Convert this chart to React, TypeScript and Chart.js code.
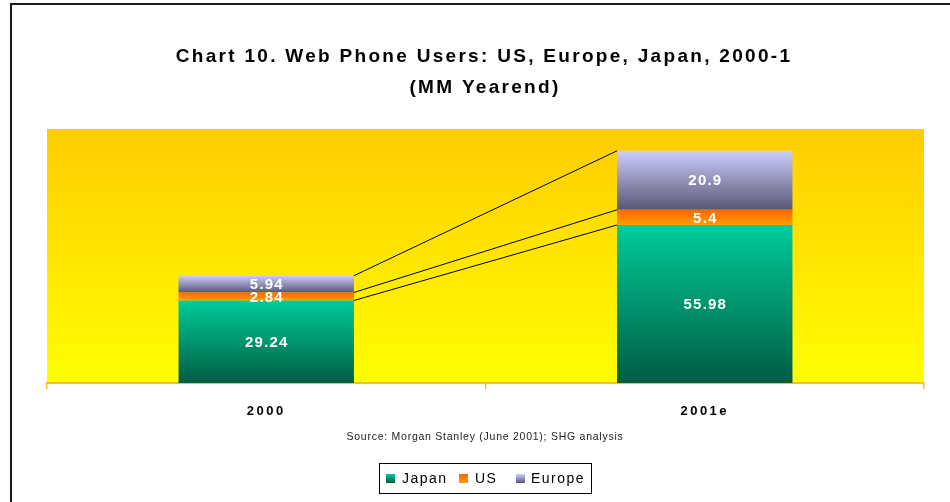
import React, { useEffect, useRef } from "react";
import { Chart, registerables } from "chart.js";

Chart.register(...registerables);

const categories = ["2000", "2001e"];
const seriesNames = ["Japan", "US", "Europe"];
const japanValues = [29.24, 55.98];
const usValues = [2.84, 5.4];
const europeValues = [5.94, 20.9];
const yMax = 90;
const titleLines = ["Chart 10. Web Phone Users: US, Europe, Japan, 2000-1", "(MM Yearend)"];
const sourceText = "Source: Morgan Stanley (June 2001); SHG analysis";

const FONT = '"Liberation Sans", Arial, sans-serif';
const seriesValues = [japanValues, usValues, europeValues];
const seriesColors: [string, string][] = [
  ["#00CC99", "#005C44"],
  ["#FF6600", "#FF9C00"],
  ["#CCCCFF", "#585874"],
];

function makeGradient(ctx: CanvasRenderingContext2D, top: number, bottom: number, c1: string, c2: string) {
  const g = ctx.createLinearGradient(0, top, 0, bottom);
  g.addColorStop(0, c1);
  g.addColorStop(1, c2);
  return g;
}

const decorPlugin = {
  id: "decor",
  beforeDraw(chart: any) {
    const { ctx, chartArea } = chart;
    ctx.save();
    const g = makeGradient(ctx, chartArea.top, chartArea.bottom, "#FFCC00", "#FFFF00");
    ctx.fillStyle = g;
    ctx.fillRect(chartArea.left, chartArea.top, chartArea.right - chartArea.left, chartArea.bottom - chartArea.top);
    ctx.restore();
    (ctx as any).letterSpacing = "2.5px";
  },
  afterDatasetsDraw(chart: any) {
    const { ctx } = chart;
    ctx.save();
    // connector lines
    ctx.strokeStyle = "#000000";
    ctx.lineWidth = 1;
    chart.data.datasets.forEach((_: any, di: number) => {
      const meta = chart.getDatasetMeta(di);
      const a = meta.data[0] as any;
      const b = meta.data[1] as any;
      ctx.beginPath();
      ctx.moveTo(a.x + a.width / 2, a.y);
      ctx.lineTo(b.x - b.width / 2, b.y);
      ctx.stroke();
    });
    // value labels
    ctx.fillStyle = "#FFFFFF";
    ctx.font = `bold 15px ${FONT}`;
    (ctx as any).letterSpacing = "1.2px";
    ctx.textAlign = "center";
    ctx.textBaseline = "middle";
    chart.data.datasets.forEach((ds: any, di: number) => {
      const meta = chart.getDatasetMeta(di);
      meta.data.forEach((el: any, i: number) => {
        const cy = (el.y + el.base) / 2;
        ctx.fillText(String(ds.data[i]), el.x + 0.6, cy + 1);
      });
    });
    ctx.restore();
  },
  afterDraw(chart: any) {
    const { ctx } = chart;
    ctx.save();
    // frame
    ctx.strokeStyle = "#1a1a1a";
    ctx.lineWidth = 2;
    ctx.beginPath();
    ctx.moveTo(950, 4);
    ctx.lineTo(11, 4);
    ctx.lineTo(11, 502);
    ctx.stroke();
    // title
    ctx.fillStyle = "#000000";
    ctx.textAlign = "center";
    ctx.textBaseline = "middle";
    ctx.font = `bold 19px ${FONT}`;
    (ctx as any).letterSpacing = "2.3px";
    ctx.fillText(titleLines[0], 484, 57);
    ctx.fillText(titleLines[1], 485, 88);
    // source
    ctx.font = `10.5px ${FONT}`;
    (ctx as any).letterSpacing = "0.75px";
    ctx.fillStyle = "#222222";
    ctx.fillText(sourceText, 485, 437);
    // legend
    ctx.strokeStyle = "#000000";
    ctx.lineWidth = 1;
    ctx.strokeRect(379.5, 463.5, 212, 30);
    const sq = [386, 459, 516];
    const tx = [402, 475, 531];
    ctx.textAlign = "left";
    ctx.font = `14px ${FONT}`;
    (ctx as any).letterSpacing = "1.5px";
    seriesNames.forEach((name, i) => {
      ctx.fillStyle = makeGradient(ctx, 474, 483, seriesColors[i][0], seriesColors[i][1]);
      ctx.fillRect(sq[i], 474, 9, 9);
      ctx.fillStyle = "#000000";
      ctx.fillText(name, tx[i], 479);
    });
    ctx.restore();
    (ctx as any).letterSpacing = "0px";
  },
};

export default function App() {
  const ref = useRef<HTMLCanvasElement | null>(null);
  useEffect(() => {
    document.body.style.margin = "0";
    const canvas = ref.current!;
    const datasets = seriesNames.map((name, si) => ({
      label: name,
      data: seriesValues[si],
      borderWidth: 0,
      backgroundColor: (c: any) => {
        const chart = c.chart;
        const y = chart.scales?.y;
        const [c1, c2] = seriesColors[si];
        if (c.type !== "data" || !y) return c1;
        const idx = c.dataIndex;
        let base = 0;
        for (let k = 0; k < si; k++) base += seriesValues[k][idx];
        const top = y.getPixelForValue(base + seriesValues[si][idx]);
        const bottom = y.getPixelForValue(base);
        if (!isFinite(top) || !isFinite(bottom) || top === bottom) return c1;
        return makeGradient(chart.ctx, top, bottom, c1, c2);
      },
    }));
    const chart = new Chart(canvas, {
      type: "bar",
      data: { labels: categories, datasets },
      plugins: [decorPlugin],
      options: {
        animation: false,
        responsive: false,
        layout: { padding: { left: 47, right: 26, top: 129, bottom: 0 } },
        plugins: { legend: { display: false }, title: { display: false }, tooltip: { enabled: false } },
        datasets: { bar: { categoryPercentage: 0.8, barPercentage: 0.5 } },
        scales: {
          x: {
            stacked: true,
            afterFit: (s: any) => {
              s.height = 119;
            },
            grid: { offset: true, drawOnChartArea: false, tickLength: 6, color: "#F5C030", lineWidth: 1.5 },
            border: { color: "#F5C030", width: 2 },
            ticks: { color: "#000000", font: { family: FONT, size: 13, weight: "bold" }, padding: 15 },
          },
          y: { stacked: true, display: false, min: 0, max: yMax },
        },
      },
    } as any);
    return () => chart.destroy();
  }, []);
  return (
    <div style={{ width: 950, height: 502, position: "relative" }}>
      <canvas ref={ref} width={950} height={502} style={{ display: "block" }} />
    </div>
  );
}
